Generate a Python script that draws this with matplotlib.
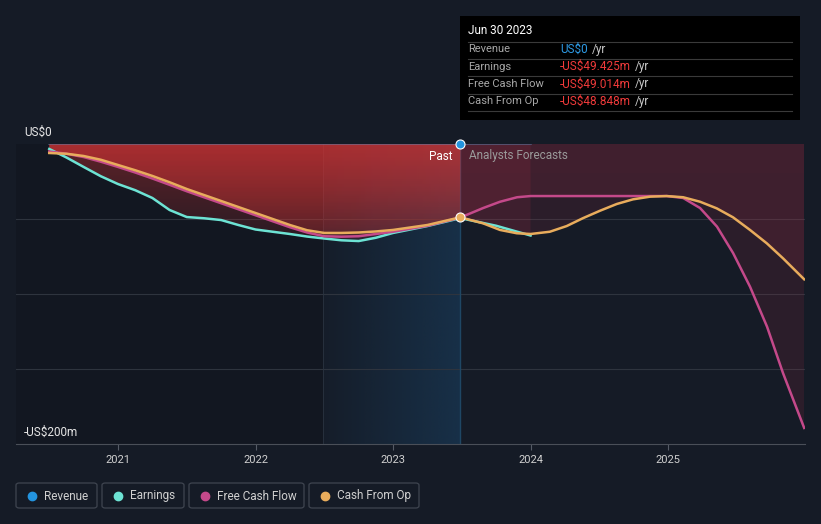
import numpy as np
import matplotlib
matplotlib.use('Agg')
import matplotlib.pyplot as plt
from matplotlib.colors import to_rgb
from matplotlib.patches import PathPatch, FancyBboxPatch, Rectangle
from matplotlib.lines import Line2D

plt.rcParams['font.family'] = ['Roboto', 'DejaVu Sans']

# ---- data (US$ m, negative = loss) ----
past_years = [2020.5, 2020.625, 2020.75, 2020.875, 2021.0, 2021.125, 2021.25,
              2021.375, 2021.5, 2021.625, 2021.75, 2021.875, 2022.0, 2022.125,
              2022.25, 2022.375, 2022.5, 2022.625, 2022.75, 2022.875, 2023.0,
              2023.25, 2023.49]
earnings_past = [-3.3, -9.0, -15.3, -21.5, -26.7, -30.8, -36.0, -44.0, -48.7,
                 -49.5, -50.7, -54.0, -57.0, -58.5, -60.0, -61.7, -63.0, -64.2,
                 -64.7, -62.5, -59.3, -54.7, -49.425]
fcf_past = [-5.0, -6.5, -8.7, -11.8, -15.3, -19.0, -23.0, -27.2, -31.5, -35.5,
            -39.5, -43.5, -47.5, -51.5, -55.5, -59.0, -61.5, -61.8, -61.5,
            -60.0, -58.5, -54.5, -49.014]
cfo_past = [-6.0, -6.5, -8.0, -10.5, -14.0, -17.5, -21.3, -25.5, -30.0, -34.0,
            -38.0, -42.0, -46.0, -50.0, -54.0, -57.5, -59.3, -59.3, -59.0,
            -58.3, -57.3, -54.0, -48.848]
revenue_years = [2020.5, 2024.0]
revenue = [0, 0]

earn_fc_years = [2023.49, 2023.75, 2024.0]
earn_fc = [-49.425, -54.5, -61.0]
fcf_fc_years = [2023.49, 2023.655, 2023.778, 2023.902, 2024.0, 2024.99,
                2025.11, 2025.233, 2025.356, 2025.473, 2025.596, 2025.72,
                2025.836, 2025.99]
fcf_fc = [-49.014, -42.7, -38.5, -35.5, -34.7, -34.7, -36.0, -42.7, -55.1,
          -72.7, -95.1, -121.8, -152.7, -189.3]
cfo_fc_years = [2023.49, 2023.655, 2023.778, 2023.9, 2024.0, 2024.14,
                2024.263, 2024.38, 2024.505, 2024.627, 2024.745, 2024.87,
                2024.99, 2025.11, 2025.233, 2025.354, 2025.473, 2025.596,
                2025.718, 2025.836, 2025.99]
cfo_fc = [-48.848, -52.9, -57.3, -59.5, -60.0, -58.5, -54.7, -49.5, -44.5,
          -40.0, -36.9, -35.1, -34.7, -35.5, -38.5, -42.9, -48.9, -57.3,
          -66.2, -76.2, -90.2]

years = [2021, 2022, 2023, 2024, 2025]
names = ['Revenue', 'Earnings', 'Free Cash Flow', 'Cash From Op']
colors = ['#2394df', '#6de3d4', '#c4498a', '#e8ac5c']

BG = '#151b26'
W, H = 821, 524


def fx(px):
    return px / W


def fy(py):
    return 1 - py / H


fig = plt.figure(figsize=(8.21, 5.24), dpi=100, facecolor=BG)
ax = fig.add_axes([fx(16), fy(444), fx(805) - fx(16), fy(144) - fy(444)])
ax.set_facecolor(BG)
X0, X1 = 2020.258, 2025.996
Y0, Y1 = -200, 0

# darker left part and blue "last year" band
ax.axvspan(X0, 2022.49, color='#000000', alpha=0.12, lw=0, zorder=0)
band = np.zeros((1, 256, 4))
band[..., :3] = to_rgb('#1b4a72')
band[0, :, 3] = np.linspace(0.05, 0.45, 256)
ax.imshow(band, extent=[2022.49, 2023.49, Y0, Y1], aspect='auto', zorder=0.5)
ax.axvline(2023.49, color='#1f4764', lw=1, zorder=1)
ax.axvline(2022.49, color='#2a3340', lw=0.6, zorder=1)

for v in (-50, -100, -150):
    ax.axhline(v, color='#2e343e', lw=0.8, zorder=0.8)


def grad_fill(x, y, color, top, bottom, span=70):
    poly = ax.fill_between(x, 0, y, color='none', lw=0)
    clip = PathPatch(poly.get_paths()[0], transform=ax.transData,
                     facecolor='none', edgecolor='none')
    ax.add_patch(clip)
    vals = np.linspace(0, -200, 300)
    a = np.clip(top + (bottom - top) * (-vals) / span, min(top, bottom), max(top, bottom))
    img = np.zeros((300, 1, 4))
    img[..., :3] = to_rgb(color)
    img[:, 0, 3] = a
    im = ax.imshow(img, extent=[min(x), max(x), Y0, Y1], aspect='auto',
                   origin='upper', zorder=2)
    im.set_clip_path(clip)


for yv in (earnings_past, fcf_past, cfo_past):
    grad_fill(past_years, yv, '#d23434', 0.40, 0.10)
for xv, yv in ((earn_fc_years, earn_fc), (fcf_fc_years, fcf_fc), (cfo_fc_years, cfo_fc)):
    grad_fill(xv, yv, '#c0304a', 0.14, 0.13)

ax.plot(revenue_years, revenue, color='#5a7ea8', lw=1.2, alpha=0.6, zorder=3)
ax.plot(past_years, earnings_past, color=colors[1], lw=1.8, zorder=4)
ax.plot(earn_fc_years, earn_fc, color=colors[1], lw=1.8, zorder=4)
ax.plot(past_years, fcf_past, color=colors[2], lw=1.8, zorder=5)
ax.plot(fcf_fc_years, fcf_fc, color=colors[2], lw=1.8, zorder=5)
ax.plot(past_years, cfo_past, color=colors[3], lw=1.8, zorder=6)
ax.plot(cfo_fc_years, cfo_fc, color=colors[3], lw=1.8, zorder=6)

ax.plot([2023.49], [0], 'o', ms=6.5, color=colors[0], mec='white', mew=0.8,
        zorder=8, clip_on=False)
ax.plot([2023.49], [cfo_past[-1]], 'o', ms=6.5, color=colors[3], mec='white',
        mew=0.8, zorder=8, clip_on=False)

ax.text(2023.43, -8, 'Past', color='white', fontsize=8.5, ha='right', va='center', zorder=9)
ax.text(2023.55, -8, 'Analysts Forecasts', color='#9a9a9a', fontsize=8.5,
        ha='left', va='center', zorder=9)

ax.set_xlim(X0, X1)
ax.set_ylim(Y0, Y1)
ax.set_xticks(years)
ax.set_xticklabels([str(y) for y in years], color='#d0d0d0', fontsize=8)
ax.set_yticks([])
ax.tick_params(axis='x', length=4, color='#555b66', pad=4)
for s in ('top', 'right', 'left'):
    ax.spines[s].set_visible(False)
ax.spines['bottom'].set_color('#4a4f58')

fig.text(fx(24), fy(132), 'US$0', color='#e6e6e6', fontsize=8.5, va='center')
fig.text(fx(24), fy(432), '-US$200m', color='#e6e6e6', fontsize=8.5, va='center')

# tooltip
fig.patches.append(Rectangle((fx(460), fy(120)), fx(800) - fx(460), fy(16) - fy(120),
                             transform=fig.transFigure, facecolor='#000000',
                             edgecolor='none', zorder=10))
fig.text(fx(468), fy(31), 'Jun 30 2023', color='white', fontsize=8.5, va='center', zorder=11)
for ly in (42, 58.5, 76, 93.5, 111):
    fig.lines.append(Line2D([fx(468), fx(792)], [fy(ly), fy(ly)], transform=fig.transFigure,
                            color='#3a3a3a', lw=0.8, zorder=11))
tip_vals = ['US$0', '-US$49.425m', '-US$49.014m', '-US$48.848m']
tip_cols = ['#2e9be6', '#f03a3a', '#f03a3a', '#f03a3a']
for i, (n, v, c) in enumerate(zip(names, tip_vals, tip_cols)):
    yy = fy(49.5 + i * 17.2)
    fig.text(fx(468), yy, n, color='#a8a8a8', fontsize=8, va='center', zorder=11)
    t = fig.text(fx(560), yy, v, color=c, fontsize=8.5, va='center', zorder=11)
    fig.canvas.draw()
    bb = t.get_window_extent()
    fig.text(bb.x1 / W + fx(4), yy, '/yr', color='#c8c8c8', fontsize=8.5, va='center', zorder=11)

# legend buttons
boxes = [(16, 97), (102, 184), (189, 304), (309, 419)]
for (bx0, bx1), n, c in zip(boxes, names, colors):
    fig.patches.append(FancyBboxPatch((fx(bx0), fy(508)), fx(bx1) - fx(bx0), fy(483) - fy(508),
                                      boxstyle='round,pad=0,rounding_size=0.004',
                                      transform=fig.transFigure, facecolor=BG,
                                      edgecolor='#3f4550', lw=0.9))
    fig.lines.append(Line2D([fx(bx0 + 16)], [fy(496)], marker='o', ms=6, color=c,
                            transform=fig.transFigure))
    fig.text(fx(bx0 + 28), fy(496), n, color='#d0d0d0', fontsize=8.5, va='center')

fig.savefig('out.png', dpi=100, facecolor=BG)
